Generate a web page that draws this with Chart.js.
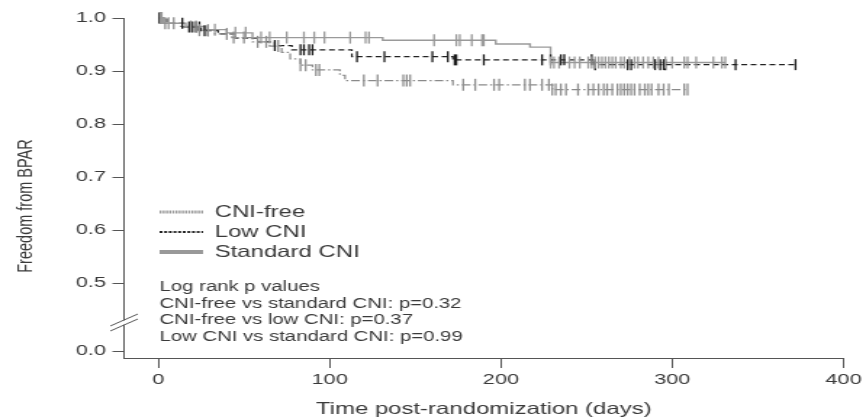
<!DOCTYPE html>
<html>
<head>
<meta charset="utf-8">
<title>Freedom from BPAR</title>
<script src="https://cdn.jsdelivr.net/npm/chart.js@4.4.1/dist/chart.umd.min.js"></script>
<style>
  html, body { margin: 0; padding: 0; background: #fff; overflow: hidden; }
  #wrap { width: 866px; height: 420px; }
  /* the figure is drawn narrow and widened, like the printed plot */
  #km { transform: scaleX(1.4506); transform-origin: 0 0; }
</style>
</head>
<body>
<div id="wrap"><canvas id="km" width="597" height="420"></canvas></div>
<script>
// Kaplan-Meier steps: event times (days) and survival after each step
const stdTimes = [0, 3, 16, 27, 40, 55, 131, 197, 217, 229, 331];
const stdSurv  = [1.0, 0.99, 0.984, 0.978, 0.972, 0.963, 0.958, 0.951, 0.945, 0.916, 0.916];
const stdCens  = [2, 6, 19, 22, 33, 45, 51, 60, 65, 75, 85, 91, 97, 112, 121, 123, 161, 174, 176, 183, 189, 190,
                  229, 231, 234, 240, 243, 246, 251, 253, 255, 257, 259, 261, 263, 265, 267, 270, 272, 275, 278, 280,
                  283, 286, 289, 292, 296, 300, 307, 309, 314, 324, 329, 331];

const lowTimes = [0, 5, 15, 25, 35, 45, 58, 68, 78, 113, 172, 255, 372];
const lowSurv  = [1.0, 0.99, 0.983, 0.976, 0.97, 0.962, 0.955, 0.948, 0.94, 0.927, 0.921, 0.912, 0.912];
const lowCens  = [0.5, 14, 18, 20, 22, 24, 27, 29, 68, 83, 85, 88, 90, 116, 132, 160, 169, 173, 174, 190, 224, 229,
                  235, 237, 253, 255, 274, 276, 290, 293, 295, 296, 337, 372];

const freeTimes = [0, 3, 13, 23, 33, 43, 55, 65, 72, 77, 83, 90, 106, 109, 172, 230, 309];
const freeSurv  = [1.0, 0.99, 0.984, 0.977, 0.97, 0.963, 0.955, 0.947, 0.935, 0.923, 0.911, 0.902, 0.892, 0.882,
                   0.874, 0.865, 0.865];
const freeCens  = [1, 4, 9, 24, 29, 40, 44, 50, 58, 63, 70, 83, 86, 92, 94, 120, 128, 143, 145, 147, 178, 185, 196, 199,
                   214, 217, 224, 228, 230, 232, 235, 238, 245, 251, 254, 257, 260, 262, 265, 268, 270, 272, 274, 276,
                   278, 281, 284, 286, 288, 292, 295, 298, 307, 309];

const xTicks = [0, 100, 200, 300, 400];
const yTicks = [0.5, 0.6, 0.7, 0.8, 0.9, 1.0];
const yZero = 0.3717;   // "0.0" sits below the axis break

const groupNames = ['CNI-free', 'Low CNI', 'Standard CNI'];
const pLines = ['Log rank p values',
                'CNI-free vs standard CNI: p=0.32',
                'CNI-free vs low CNI: p=0.37',
                'Low CNI vs standard CNI: p=0.99'];

const FONT = "'Liberation Sans', Arial, sans-serif";
const TXT = '#3a3a3a';
const AX = '#555';

function survAt(times, surv, t) {
  let s = surv[0];
  for (let i = 0; i < times.length; i++) if (times[i] <= t) s = surv[i];
  return s;
}
function stepData(times, surv) {
  return times.map((t, i) => ({x: t, y: surv[i]}));
}
function censData(times, surv, cens) {
  return cens.map(t => ({x: t, y: survAt(times, surv, t)}));
}

function curve(label, times, surv, color, dash, width) {
  return {
    type: 'line', label, data: stepData(times, surv), stepped: 'before',
    borderColor: color, borderWidth: width, borderDash: dash, pointRadius: 0,
    fill: false, clip: false, order: 2
  };
}
function marks(label, times, surv, cens, color, r) {
  return {
    type: 'scatter', label, data: censData(times, surv, cens), showLine: false,
    pointStyle: 'line', rotation: 90, pointRadius: r, borderColor: color,
    backgroundColor: color, pointBorderWidth: 1.3, clip: false, order: 1
  };
}

// y label, legend, p values and the axis break
const extras = {
  id: 'extras',
  afterDraw(chart) {
    const ctx = chart.ctx;
    ctx.save();

    // axis break
    ctx.fillStyle = '#fff';
    ctx.fillRect(83.5, 320.5, 4, 4.2);
    ctx.strokeStyle = AX;
    ctx.lineWidth = 1;
    ctx.beginPath();
    ctx.moveTo(76, 326); ctx.lineTo(95, 314);
    ctx.moveTo(76, 331); ctx.lineTo(95, 319);
    ctx.stroke();

    // y title
    ctx.fillStyle = TXT;
    ctx.font = `14.5px ${FONT}`;
    ctx.textAlign = 'center';
    ctx.textBaseline = 'middle';
    ctx.translate(18, 206);
    ctx.rotate(-Math.PI / 2);
    ctx.fillText('Freedom from BPAR', 0, 0);
    ctx.setTransform(1, 0, 0, 1, 0, 0);

    // legend
    const styles = [
      {color: '#999', width: 3, dash: [1.4, 0.8]},
      {color: '#222', width: 2, dash: [2, 1.2]},
      {color: '#999', width: 4, dash: []}
    ];
    const rows = [212, 232, 252];
    ctx.font = `16.5px ${FONT}`;
    ctx.textAlign = 'left';
    groupNames.forEach((name, i) => {
      ctx.strokeStyle = styles[i].color;
      ctx.lineWidth = styles[i].width;
      ctx.setLineDash(styles[i].dash);
      ctx.beginPath();
      ctx.moveTo(110, rows[i]);
      ctx.lineTo(140, rows[i]);
      ctx.stroke();
      ctx.fillStyle = TXT;
      ctx.fillText(name, 148, rows[i]);
    });
    ctx.setLineDash([]);

    // log rank results
    ctx.font = `14px ${FONT}`;
    pLines.forEach((line, i) => ctx.fillText(line, 110, 287 + i * 16.7));

    ctx.restore();
  }
};

new Chart(document.getElementById('km'), {
  data: {
    datasets: [
      curve('Standard CNI', stdTimes, stdSurv, '#9a9a9a', [], 1.4),
      curve('CNI-free', freeTimes, freeSurv, '#8a8a8a', [6, 2, 1.5, 2], 1.2),
      curve('Low CNI', lowTimes, lowSurv, '#222', [4, 2.5], 1.2),
      marks('Standard CNI censored', stdTimes, stdSurv, stdCens, '#999', 6),
      marks('CNI-free censored', freeTimes, freeSurv, freeCens, '#8f8f8f', 6),
      marks('Low CNI censored', lowTimes, lowSurv, lowCens, '#1a1a1a', 5.5)
    ]
  },
  options: {
    responsive: false,
    animation: false,
    layout: {padding: {top: 18, right: 14, left: 0, bottom: 0}},
    plugins: {legend: {display: false}, tooltip: {enabled: false}},
    scales: {
      x: {
        type: 'linear', min: -20, max: 400,
        afterBuildTicks: s => { s.ticks = xTicks.map(v => ({value: v})); },
        afterFit: s => { s.height = 62; },
        grid: {drawOnChartArea: false, drawTicks: true, tickLength: 10, color: AX},
        border: {display: true, color: AX, width: 1},
        ticks: {font: {family: FONT, size: 15}, color: TXT, padding: 3, maxRotation: 0, autoSkip: false},
        title: {display: true, text: 'Time post-randomization (days)', color: TXT,
                font: {family: FONT, size: 16.5}, padding: {top: 0, bottom: 1}}
      },
      y: {
        type: 'linear', min: 0.3585, max: 1.0,
        afterBuildTicks: s => { s.ticks = [yZero, ...yTicks].map(v => ({value: v})); },
        afterFit: s => { s.width = 85.5; },
        grid: {drawOnChartArea: false, drawTicks: true, tickLength: 8, color: AX},
        border: {display: true, color: AX, width: 1},
        ticks: {
          font: {family: FONT, size: 15}, color: TXT, padding: 4.5, autoSkip: false,
          callback: v => Math.abs(v - yZero) < 1e-6 ? '0.0' : v.toFixed(1)
        }
      }
    }
  },
  plugins: [extras]
});
</script>
</body>
</html>
